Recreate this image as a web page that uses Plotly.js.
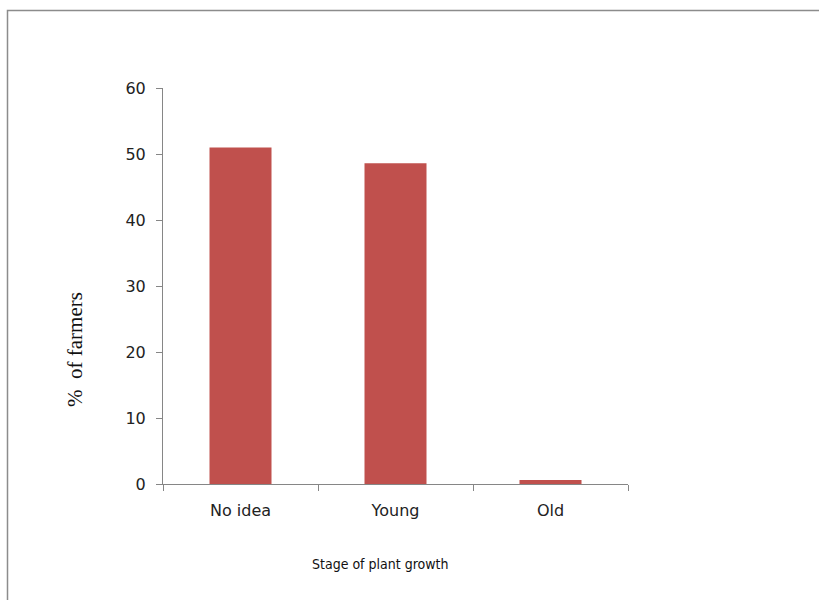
<!DOCTYPE html>
<html>
<head>
<meta charset="utf-8">
<script src="https://cdn.plot.ly/plotly-3.0.1.min.js"></script>
<style>
  html, body { margin: 0; padding: 0; background: #ffffff; }
  #chart { width: 819px; height: 600px; }
</style>
</head>
<body>
<div id="chart"></div>
<script>
// Stage of plant growth vs share of farmers (%)
const stages = ["No idea", "Young", "Old"];
const farmerPct = [51.0, 48.6, 0.6];
const yTicks = [0, 10, 20, 30, 40, 50, 60];
const xTitle = "Stage of plant growth";
const yTitle = "%  of farmers";

const axisGrey = "#868686";

const trace = {
  type: "bar",
  x: stages,
  y: farmerPct,
  marker: { color: "#C0504D", line: { width: 0 } },
  hoverinfo: "x+y"
};

// plot area: x 163..628, y 88..484 in an 819x600 page
const L = 163, R = 628, T = 88, B = 484, W = 819, H = 600;
const px = v => (v - L) / (R - L);
const py = v => (B - v) / (B - T);

const tickFont = { family: "DejaVu Sans", size: 16, color: "#222222" };

const layout = {
  width: W,
  height: H,
  margin: { l: L, r: W - R, t: T, b: H - B, pad: 0 },
  paper_bgcolor: "#ffffff",
  plot_bgcolor: "#ffffff",
  showlegend: false,
  bargap: 0.6,
  xaxis: {
    type: "category",
    showline: true,
    linecolor: axisGrey,
    linewidth: 1,
    ticks: "outside",
    tickson: "boundaries",
    ticklen: 6,
    tickcolor: axisGrey,
    showgrid: false,
    zeroline: false,
    tickfont: tickFont,
    ticklabelstandoff: 12
  },
  yaxis: {
    range: [0, 60],
    tickvals: yTicks,
    ticktext: yTicks.map(String),
    showline: true,
    linecolor: axisGrey,
    linewidth: 1,
    ticks: "outside",
    ticklen: 6,
    tickcolor: axisGrey,
    showgrid: false,
    zeroline: false,
    tickfont: tickFont,
    ticklabelstandoff: 7
  },
  annotations: [
    {
      text: xTitle,
      xref: "paper", yref: "paper",
      x: px(380), y: py(564),
      xanchor: "center", yanchor: "middle",
      showarrow: false,
      font: { family: "DejaVu Sans Condensed, DejaVu Sans", size: 14, color: "#111111" }
    },
    {
      text: yTitle,
      xref: "paper", yref: "paper",
      x: px(75), y: py(350),
      xanchor: "center", yanchor: "middle",
      textangle: -90,
      showarrow: false,
      font: { family: "Liberation Serif, DejaVu Serif", size: 21, color: "#111111" }
    }
  ],
  shapes: [
    {
      type: "rect",
      xref: "paper", yref: "paper",
      x0: px(7.5), x1: px(W + 20),
      y0: py(H + 20), y1: py(10.5),
      line: { color: "#8c8c8c", width: 1.5 },
      fillcolor: "rgba(0,0,0,0)",
      layer: "below"
    }
  ]
};

Plotly.newPlot("chart", [trace], layout, { displayModeBar: false, staticPlot: true });
</script>
</body>
</html>
